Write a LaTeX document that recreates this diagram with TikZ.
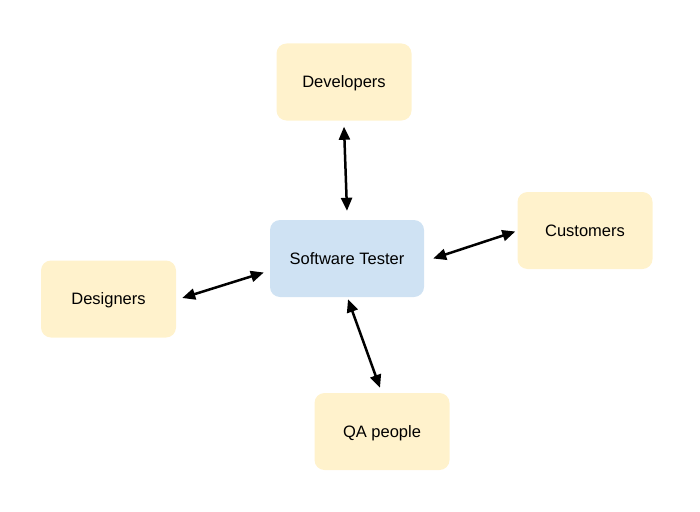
\documentclass[tikz,border=0pt]{standalone}
\usepackage{fontspec}
\setmainfont{Liberation Sans}
\usetikzlibrary{calc,arrows.meta}
\definecolor{boxyellow}{HTML}{FFF2CC}
\definecolor{boxblue}{HTML}{CFE2F3}
\tikzset{
  rolebox/.style={fill=boxyellow, draw=none, rounded corners=10pt, minimum width=135pt, minimum height=77pt, inner sep=0pt, text height=11.8pt, text depth=0pt, font=\fontsize{16.5}{19}\selectfont},
  centerbox/.style={rolebox, fill=boxblue, minimum width=154pt},
  link/.style={line width=2.5pt, {Triangle[length=13pt,width=11pt]}-{Triangle[length=13pt,width=11pt]}}
}
\begin{document}
\begin{tikzpicture}[x=1pt,y=-1pt]
\useasboundingbox (0,0) rectangle (700,511);
\node[rolebox] (dev) at (344,82) {Developers};
\node[centerbox] (tester) at (347,258.5) {Software Tester};
\node[rolebox] (cust) at (585,230.5) {Customers};
\node[rolebox] (des) at (108.5,299) {Designers};
\node[rolebox] (qa) at (382,431.5) {QA people};
\draw[link] ($(dev.south)+(0,6)$) -- ($(tester.north)+(0,-9)$);
\draw[link] ($(tester.east)+(9,0)$) -- ($(cust.west)+(-2,1)$);
\draw[link] ($(des.east)+(6,-1)$) -- ($(tester.west)+(-6,14)$);
\draw[link] ($(tester.south)+(1,2)$) -- ($(qa.north)+(-2,-5)$);
\end{tikzpicture}
\end{document}
